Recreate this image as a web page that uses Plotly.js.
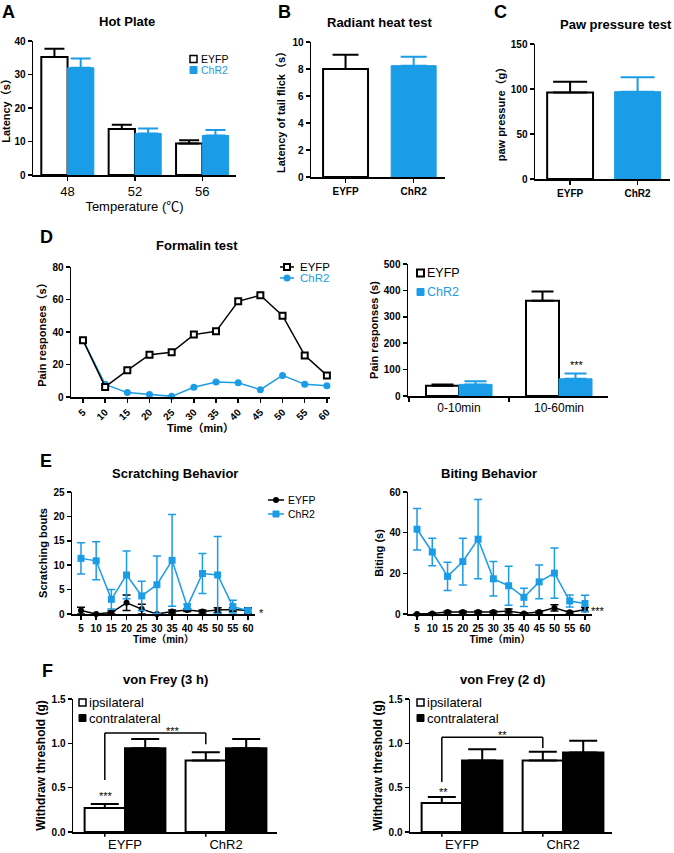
<!DOCTYPE html>
<html><head><meta charset="utf-8">
<script src="https://cdn.plot.ly/plotly-3.0.1.min.js"></script>
<style>html,body{margin:0;padding:0;background:#fff}#chart{width:674px;height:853px}</style>
</head><body><div id="chart"></div>
<script>
// ---------------- DATA ----------------
const tempCats = ['48', '52', '56'];
const hotEYFP = [35.2, 13.7, 9.4];
const hotEYFPErr = [2.5, 1.3, 1.0];
const hotChR2 = [32.0, 12.4, 11.8];
const hotChR2Err = [2.8, 1.5, 1.6];

const groups = ['EYFP', 'ChR2'];
const radiant = [8.0, 8.25];
const radiantErr = [1.05, 0.65];
const paw = [96, 97];
const pawErr = [12, 16];

const timeMin = [5, 10, 15, 20, 25, 30, 35, 40, 45, 50, 55, 60];
const formEYFP = [35, 6.2, 16.4, 26, 27.5, 38.4, 40.4, 58.9, 62.6, 50, 25.6, 13.3];
const formChR2 = [35, 7.8, 2.7, 1.6, 0.4, 6, 9.2, 8.8, 4.5, 13.3, 7.8, 7];

const phaseCats = ['0-10min', '10-60min'];
const phaseEYFP = [39, 361];
const phaseEYFPErr = [5, 35];
const phaseChR2 = [44, 65];
const phaseChR2Err = [12, 20];

const scratchEYFP = [0.7, 0, 0.3, 2.3, 1.0, 0, 0.5, 0.8, 0.5, 0.8, 0.9, 0.7];
const scratchEYFPErr = [0.7, 0, 0.3, 1.6, 1.0, 0, 0.3, 0.3, 0.3, 0.5, 0.4, 0.6];
const scratchChR2 = [11.4, 10.9, 3.0, 8.0, 3.7, 6.0, 11.0, 1.5, 8.3, 8.0, 1.5, 0.7];
const scratchChR2Err = [3.2, 3.9, 2.0, 4.9, 3.0, 5.9, 9.4, 0.5, 4.1, 7.9, 1.3, 0.3];

const biteEYFP = [0, 0.3, 1.0, 1.0, 1.0, 1.0, 1.5, 0.3, 1.0, 3.0, 0.8, 2.2];
const biteEYFPErr = [0, 0.3, 0.5, 0.5, 0.5, 0.5, 1.0, 0.3, 0.5, 1.5, 0.5, 1.0];
const biteChR2 = [41.7, 30.5, 18.5, 25.8, 36.8, 17.3, 13.9, 8.2, 15.8, 20.1, 6.4, 5.2];
const biteChR2Err = [10.2, 6.8, 7.0, 11.5, 19.5, 8.5, 9.6, 4.5, 8.3, 12.3, 2.9, 4.0];

const sideCats = ['EYFP', 'ChR2'];
const sideNames = ['ipsilateral', 'contralateral'];
const vf3hIpsi = [0.27, 0.806];
const vf3hIpsiErr = [0.045, 0.094];
const vf3hContra = [0.945, 0.945];
const vf3hContraErr = [0.105, 0.105];
const vf2dIpsi = [0.326, 0.806];
const vf2dIpsiErr = [0.068, 0.098];
const vf2dContra = [0.806, 0.896];
const vf2dContraErr = [0.128, 0.134];

// ---------------- HELPERS ----------------
const W = 674, H = 853;
const px = v => v / W;
const py = v => 1 - v / H;
const FONT = 'Liberation Sans, Arial, "Noto Sans CJK SC", sans-serif';
const BLUE = '#1b9ce6';
const zeros = n => new Array(n).fill(0);

const base = {
  showline: true, linecolor: '#000', linewidth: 1.5,
  ticks: 'outside', ticklen: 4, tickwidth: 1.5, tickcolor: '#000',
  showgrid: false, zeroline: false, automargin: false, fixedrange: true,
  tickfont: {family: FONT, size: 10, color: '#000', weight: 'bold'}
};
function xax(l, r, anchor, extra) {
  return Object.assign({}, base, {domain: [px(l), px(r)], anchor: anchor}, extra || {});
}
function yax(top, bot, anchor, range, dtick, title, standoff, extra, tsize) {
  return Object.assign({}, base, {
    domain: [py(bot), py(top)], anchor: anchor, range: range, dtick: dtick,
    title: {text: title, standoff: standoff, font: {family: FONT, size: tsize || 11, color: '#000', weight: 'bold'}}
  }, extra || {});
}
function upErr(arr, color, w) {
  return {type: 'data', symmetric: false, array: arr, arrayminus: zeros(arr.length), color: color, thickness: 2, width: w};
}
function symErr(arr, color, w) {
  return {type: 'data', symmetric: true, array: arr, color: color, thickness: 1.5, width: w};
}
const whiteBar = {color: '#fff', line: {color: '#000', width: 2}};
const blueBar = {color: BLUE, line: {color: BLUE, width: 1}};
const blackBar = {color: '#000', line: {color: '#000', width: 2}};
const eyfpLine = {color: '#000', width: 1.5};
const chr2Line = {color: BLUE, width: 1.5};

// ---------------- TRACES ----------------
const traces = [
  // A
  {type: 'bar', x: tempCats, y: hotEYFP, xaxis: 'x', yaxis: 'y', name: 'EYFP', width: 0.39, offset: -0.39,
   marker: whiteBar, error_y: upErr(hotEYFPErr, '#000', 10)},
  {type: 'bar', x: tempCats, y: hotChR2, xaxis: 'x', yaxis: 'y', name: 'ChR2', width: 0.39, offset: 0,
   marker: blueBar, error_y: upErr(hotChR2Err, BLUE, 10)},
  // B
  {type: 'bar', x: [groups[0]], y: [radiant[0]], xaxis: 'x2', yaxis: 'y2', name: 'EYFP', width: 0.66, offset: -0.33,
   marker: whiteBar, error_y: upErr([radiantErr[0]], '#000', 13)},
  {type: 'bar', x: [groups[1]], y: [radiant[1]], xaxis: 'x2', yaxis: 'y2', name: 'ChR2', width: 0.66, offset: -0.33,
   marker: blueBar, error_y: upErr([radiantErr[1]], BLUE, 13)},
  // C
  {type: 'bar', x: [groups[0]], y: [paw[0]], xaxis: 'x3', yaxis: 'y3', name: 'EYFP', width: 0.68, offset: -0.34,
   marker: whiteBar, error_y: upErr([pawErr[0]], '#000', 17)},
  {type: 'bar', x: [groups[1]], y: [paw[1]], xaxis: 'x3', yaxis: 'y3', name: 'ChR2', width: 0.68, offset: -0.34,
   marker: blueBar, error_y: upErr([pawErr[1]], BLUE, 17)},
  // D left
  {type: 'scatter', mode: 'lines+markers', x: timeMin, y: formChR2, xaxis: 'x4', yaxis: 'y4', name: 'ChR2',
   line: chr2Line, marker: {symbol: 'circle', size: 7, color: BLUE}, cliponaxis: false},
  {type: 'scatter', mode: 'lines+markers', x: timeMin, y: formEYFP, xaxis: 'x4', yaxis: 'y4', name: 'EYFP',
   line: eyfpLine, marker: {symbol: 'square', size: 6, color: '#fff', line: {color: '#000', width: 2}}, cliponaxis: false},
  // D right
  {type: 'bar', x: phaseCats, y: phaseEYFP, xaxis: 'x5', yaxis: 'y5', name: 'EYFP', width: 0.33, offset: -0.33,
   marker: whiteBar, error_y: upErr(phaseEYFPErr, '#000', 11)},
  {type: 'bar', x: phaseCats, y: phaseChR2, xaxis: 'x5', yaxis: 'y5', name: 'ChR2', width: 0.33, offset: 0,
   marker: blueBar, error_y: upErr(phaseChR2Err, BLUE, 11)},
  // E left
  {type: 'scatter', mode: 'lines+markers', x: timeMin, y: scratchEYFP, xaxis: 'x6', yaxis: 'y6', name: 'EYFP',
   line: eyfpLine, marker: {symbol: 'circle', size: 6, color: '#000'},
   error_y: symErr(scratchEYFPErr, '#000', 4), cliponaxis: false},
  {type: 'scatter', mode: 'lines+markers', x: timeMin, y: scratchChR2, xaxis: 'x6', yaxis: 'y6', name: 'ChR2',
   line: chr2Line, marker: {symbol: 'square', size: 7, color: BLUE},
   error_y: symErr(scratchChR2Err, BLUE, 4), cliponaxis: false},
  // E right
  {type: 'scatter', mode: 'lines+markers', x: timeMin, y: biteEYFP, xaxis: 'x7', yaxis: 'y7', name: 'EYFP',
   line: eyfpLine, marker: {symbol: 'circle', size: 6, color: '#000'},
   error_y: symErr(biteEYFPErr, '#000', 4), cliponaxis: false},
  {type: 'scatter', mode: 'lines+markers', x: timeMin, y: biteChR2, xaxis: 'x7', yaxis: 'y7', name: 'ChR2',
   line: chr2Line, marker: {symbol: 'square', size: 7, color: BLUE},
   error_y: symErr(biteChR2Err, BLUE, 4), cliponaxis: false},
  // F left
  {type: 'bar', x: sideCats, y: vf3hIpsi, xaxis: 'x8', yaxis: 'y8', name: sideNames[0], width: 0.40, offset: -0.40,
   marker: whiteBar, error_y: upErr(vf3hIpsiErr, '#000', 14)},
  {type: 'bar', x: sideCats, y: vf3hContra, xaxis: 'x8', yaxis: 'y8', name: sideNames[1], width: 0.40, offset: 0,
   marker: blackBar, error_y: upErr(vf3hContraErr, '#000', 14)},
  // F right
  {type: 'bar', x: sideCats, y: vf2dIpsi, xaxis: 'x9', yaxis: 'y9', name: sideNames[0], width: 0.40, offset: -0.40,
   marker: whiteBar, error_y: upErr(vf2dIpsiErr, '#000', 14)},
  {type: 'bar', x: sideCats, y: vf2dContra, xaxis: 'x9', yaxis: 'y9', name: sideNames[1], width: 0.40, offset: 0,
   marker: blackBar, error_y: upErr(vf2dContraErr, '#000', 14)}
];
traces.forEach(t => { t.showlegend = false; });

// ---------------- LAYOUT ----------------
const regFont = s => ({family: FONT, size: s, color: '#000'});
const boldFont = s => ({family: FONT, size: s, color: '#000', weight: 'bold'});
function ann(text, x, y, font, extra) {
  return Object.assign({text: text, x: px(x), y: py(y), xref: 'paper', yref: 'paper', showarrow: false,
                        xanchor: 'center', yanchor: 'middle', font: font}, extra || {});
}
function seg(xref, yref, x0, y0, x1, y1) {
  return {type: 'line', xref: xref, yref: yref, x0: x0, y0: y0, x1: x1, y1: y1, line: {color: '#000', width: 1.5}};
}
// legend key helpers (paper pixel positions)
function keyRect(cx, cy, s, fill, stroke, sw) {
  return {type: 'rect', xref: 'paper', yref: 'paper', x0: px(cx - s / 2), x1: px(cx + s / 2),
          y0: py(cy + s / 2), y1: py(cy - s / 2), fillcolor: fill, line: {color: stroke, width: sw}};
}
function keyCircle(cx, cy, s, color) {
  return {type: 'circle', xref: 'paper', yref: 'paper', x0: px(cx - s / 2), x1: px(cx + s / 2),
          y0: py(cy + s / 2), y1: py(cy - s / 2), fillcolor: color, line: {color: color, width: 0}};
}
function keyLine(x0, x1, y, color) {
  return {type: 'line', xref: 'paper', yref: 'paper', x0: px(x0), x1: px(x1), y0: py(y), y1: py(y), line: {color: color, width: 1.5}};
}
function keyText(text, x, y, size, color) {
  return ann(text, x, y, {family: FONT, size: size, color: color}, {xanchor: 'left', borderpad: 0});
}

const legendShapes = [
  // A
  keyRect(193.5, 59, 7, '#fff', '#000', 1.5), keyRect(193.5, 70, 7, BLUE, BLUE, 1),
  // D left
  keyLine(280, 294, 267, '#000'), keyRect(287, 267, 6, '#fff', '#000', 2),
  keyLine(280, 294, 278, BLUE), keyCircle(287, 278, 7, BLUE),
  // D right
  keyRect(420.5, 273, 7, '#fff', '#000', 2), keyRect(420.5, 292, 7, BLUE, BLUE, 1),
  // E left
  keyLine(268, 284, 500, '#000'), keyCircle(276, 500, 6, '#000'),
  keyLine(268, 284, 514, BLUE), keyRect(276, 514, 6, BLUE, BLUE, 1),
  // F left
  keyRect(82.5, 702.5, 7, '#fff', '#000', 1.5), keyRect(82.5, 718, 7, '#000', '#000', 1),
  // F right
  keyRect(420.5, 702.5, 7, '#fff', '#000', 1.5), keyRect(420.5, 718, 7, '#000', '#000', 1)
];
const legendTexts = [
  keyText('EYFP', 200, 59, 10.5, '#000'), keyText('ChR2', 200, 70, 10.5, BLUE),
  keyText('EYFP', 299, 267, 11.5, '#000'), keyText('ChR2', 299, 278, 11.5, BLUE),
  keyText('EYFP', 426, 273, 12.5, '#000'), keyText('ChR2', 426, 292, 12.5, BLUE),
  keyText('EYFP', 287, 500, 10.5, '#000'), keyText('ChR2', 287, 514, 10.5, '#000'),
  keyText(sideNames[0], 88, 702, 13, '#000'), keyText(sideNames[1], 88, 718, 13, '#000'),
  keyText(sideNames[0], 426, 702, 13, '#000'), keyText(sideNames[1], 426, 718, 13, '#000')
];

const layout = {
  width: W, height: H, margin: {l: 0, r: 0, t: 0, b: 0},
  paper_bgcolor: '#fff', plot_bgcolor: 'rgba(0,0,0,0)',
  font: {family: FONT, color: '#000'},
  barmode: 'group', hovermode: false, showlegend: false,
  // A
  xaxis: xax(33, 236, 'y', {type: 'category', categoryorder: 'array', categoryarray: tempCats, range: [-0.513, 2.5],
    tickfont: regFont(13), title: {text: 'Temperature (℃)', standoff: 1, font: regFont(13)}}),
  yaxis: yax(41, 175, 'x', [0, 40], 10, 'Latency（s）', 5),
  // B
  xaxis2: xax(311, 445, 'y2', {type: 'category', categoryorder: 'array', categoryarray: groups, range: [-0.507, 1.46]}),
  yaxis2: yax(42, 177, 'x2', [0, 10], 2, 'Latency of tail flick（s）', 4),
  // C
  xaxis3: xax(535, 670, 'y3', {type: 'category', categoryorder: 'array', categoryarray: groups, range: [-0.52, 1.48]}),
  yaxis3: yax(44, 179, 'x3', [0, 150], 50, 'paw pressure（g）', 3),
  // D left
  xaxis4: xax(71, 330, 'y4', {type: 'linear', range: [2.3, 60.7], tickvals: timeMin, tickangle: -45,
    title: {text: 'Time（min）', standoff: 2, font: boldFont(11)}}),
  yaxis4: yax(267, 397, 'x4', [0, 80], 20, 'Pain responses（s）', 3),
  // D right
  xaxis5: xax(408, 608, 'y5', {type: 'category', categoryorder: 'array', categoryarray: phaseCats, range: [-0.51, 1.49],
    tickson: 'boundaries', tickfont: regFont(12)}),
  yaxis5: yax(264, 396, 'x5', [0, 500], 100, 'Pain responses (s)', 3),
  // E left
  xaxis6: xax(72, 255, 'y6', {type: 'linear', range: [2.04, 62.3], tickvals: timeMin,
    title: {text: 'Time（min）', standoff: 2, font: boldFont(10)}}),
  yaxis6: yax(492, 614, 'x6', [0, 25], 5, 'Scratching bouts', 3),
  // E right
  xaxis7: xax(408, 592, 'y7', {type: 'linear', range: [2.05, 62.3], tickvals: timeMin,
    title: {text: 'Time（min）', standoff: 2, font: boldFont(10)}}),
  yaxis7: yax(492, 614, 'x7', [0, 60], 20, 'Biting (s)', 3),
  // F left
  xaxis8: xax(73, 277, 'y8', {type: 'category', categoryorder: 'array', categoryarray: sideCats, range: [-0.515, 1.505],
    ticks: '', tickfont: regFont(13)}),
  yaxis8: yax(699, 832, 'x8', [0, 1.5], 0.5, 'Withdraw threshold (g)', 3, {tickformat: '.1f'}, 12),
  // F right
  xaxis9: xax(410, 612, 'y9', {type: 'category', categoryorder: 'array', categoryarray: sideCats, range: [-0.515, 1.485],
    ticks: '', tickfont: regFont(13)}),
  yaxis9: yax(699, 832, 'x9', [0, 1.5], 0.5, 'Withdraw threshold (g)', 3, {tickformat: '.1f'}, 12),

  annotations: [
    ann('A', 8, 0, boldFont(18), {yanchor: 'top'}), ann('B', 284, 0, boldFont(18), {yanchor: 'top'}),
    ann('C', 500, 0, boldFont(18), {yanchor: 'top'}),
    ann('D', 46, 237, boldFont(18)), ann('E', 46, 461, boldFont(18)), ann('F', 47, 671, boldFont(18)),
    ann('Hot Plate', 127, 21, boldFont(13)),
    ann('Radiant heat test', 379, 22, boldFont(13)),
    ann('Paw pressure test', 616, 25, boldFont(13)),
    ann('Formalin test', 197, 246, boldFont(13)),
    ann('Scratching Behavior', 175, 473, boldFont(13)),
    ann('Biting Behavior', 489, 473, boldFont(13)),
    ann('von Frey (3 h)', 165, 679, boldFont(13)),
    ann('von Frey (2 d)', 503, 679, boldFont(13)),
    ann('***', 577, 365, regFont(11)),
    ann('*', 261, 613, regFont(11)),
    ann('***', 598, 611, regFont(11)),
    ann('***', 173, 731, regFont(11)),
    ann('***', 106, 796, regFont(11)),
    ann('**', 503, 735, regFont(11)),
    ann('**', 443, 792, regFont(11))
  ].concat(legendTexts),
  shapes: [
    // significance brackets, F left
    seg('x8', 'y8', -0.2, 0.586, -0.2, 1.116), seg('x8', 'y8', -0.2, 1.116, 0.8, 1.116), seg('x8', 'y8', 0.8, 1.116, 0.8, 0.99),
    // F right
    seg('x9', 'y9', -0.2, 0.564, -0.2, 1.07), seg('x9', 'y9', -0.2, 1.07, 0.8, 1.07), seg('x9', 'y9', 0.8, 1.07, 0.8, 0.947),
    // tick marks under F axes
    seg('x8', 'y8 domain', -0.2, 0, -0.2, -0.035), seg('x8', 'y8 domain', 0.8, 0, 0.8, -0.035),
    seg('x9', 'y9 domain', -0.2, 0, -0.2, -0.035), seg('x9', 'y9 domain', 0.8, 0, 0.8, -0.035)
  ].concat(legendShapes)
};

Plotly.newPlot('chart', traces, layout, {displayModeBar: false, staticPlot: true});
</script>
</body></html>
